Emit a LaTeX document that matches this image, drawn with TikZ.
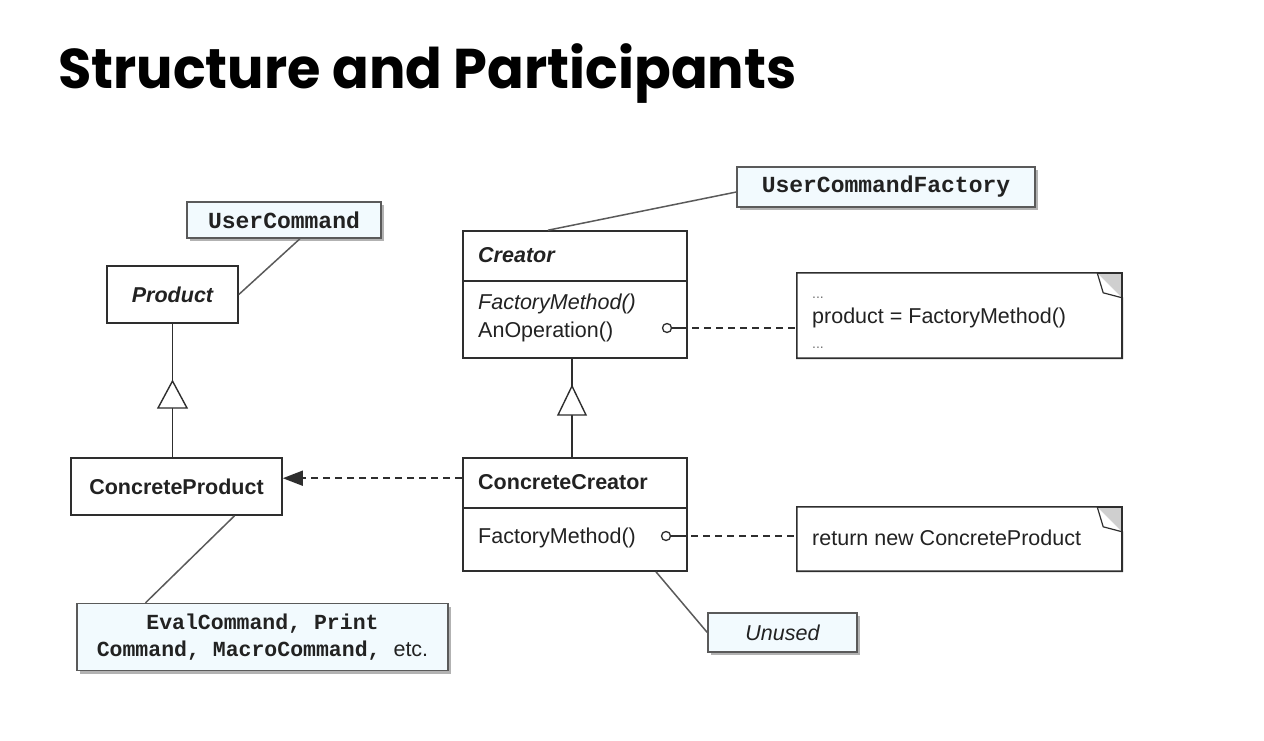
\documentclass[tikz,border=0pt]{standalone}
\usepackage{fontspec}
\setmainfont{Liberation Sans}
\setmonofont{Liberation Mono}
\newfontfamily\titlefont{Poppins}
\usetikzlibrary{arrows.meta,shadows,calc}

\definecolor{linec}{HTML}{2E2E2E}
\definecolor{notec}{HTML}{5A5A5A}
\definecolor{notefill}{HTML}{F2FAFE}
\definecolor{txt}{HTML}{222222}
\definecolor{earfill}{HTML}{CFCFCF}

\tikzset{
  umlbox/.style={draw=linec, line width=1.6pt, fill=white, inner sep=0pt,
    rectangle, text=txt, font=\fontsize{21.5}{26}\selectfont\bfseries},
  membertext/.style={anchor=west, inner sep=0pt, text=txt,
    font=\fontsize{21.5}{26}\selectfont},
  tagbox/.style={draw=notec, line width=1.4pt, fill=notefill, inner sep=0pt,
    rectangle, text=txt, align=center,
    drop shadow={shadow xshift=3pt, shadow yshift=-3pt, opacity=0.3, fill=black}},
  tagline/.style={draw=notec, line width=1.5pt},
  cmtbox/.style={draw=linec, line width=1.6pt, fill=white, line join=miter},
  genline/.style={draw=linec, line width=1.6pt},
  gentri/.style={draw=linec, line width=1.4pt, fill=white, line join=miter},
  depline/.style={draw=linec, line width=1.6pt, dash pattern=on 7pt off 5pt,
    -{Triangle[length=20pt,width=15pt]}},
  linkdash/.style={draw=linec, line width=1.6pt, dash pattern=on 7pt off 5pt},
  monotag/.style={font=\fontsize{23}{28}\ttfamily\bfseries},
  dotstext/.style={anchor=base west, inner sep=0pt, text=black!55,
    font=\fontsize{14}{16}\selectfont},
}

\begin{document}
\begin{tikzpicture}[x=1pt,y=-1pt]
\useasboundingbox (0,0) rectangle (1264,740);

% heading
\node[anchor=base west, inner sep=0pt, text=black]
  (title) at (58,88) {\scalebox{0.967}[1]{\titlefont\bfseries\fontsize{56}{60}\selectfont Structure and Participants}};

% ---- product side ----
\node[umlbox, minimum width=131pt, minimum height=57pt] (product) at (172.5,294.5)
  {\itshape Product};
\node[umlbox, minimum width=211pt, minimum height=57pt] (cprod) at (176.5,486.5)
  {ConcreteProduct};

\draw[genline] (product.south) -- (product.south |- cprod.north);
\draw[gentri] (172.5,381) -- (158,408) -- (187,408) -- cycle;

% ---- creator side ----
\node[umlbox, minimum width=224pt, minimum height=127pt] (creator) at (575,294.5) {};
\draw[genline] (creator.west |- 0,281) -- (creator.east |- 0,281);
\node[membertext, font=\fontsize{21.5}{26}\selectfont\bfseries\itshape] (crname) at (478,255) {Creator};
\node[membertext, font=\fontsize{21.5}{26}\selectfont\itshape] (crfm) at (478,304) {FactoryMethod()};
\node[membertext] (crop) at (478,332) {AnOperation()};

\node[umlbox, minimum width=224pt, minimum height=113pt] (ccreator) at (575,514.5) {};
\draw[genline] (ccreator.west |- 0,508) -- (ccreator.east |- 0,508);
\node[membertext, font=\fontsize{21.5}{26}\selectfont\bfseries] (ccname) at (478,482) {ConcreteCreator};
\node[membertext] (ccfm) at (478,538) {FactoryMethod()};

\draw[genline] ([xshift=-3pt]creator.south) -- ([xshift=-3pt]ccreator.north);
\draw[gentri] (572,386) -- (558,415) -- (586,415) -- cycle;

% dependency ConcreteCreator -> ConcreteProduct
\coordinate (depstart) at ($(ccreator.north west)+(0,21)$);
\draw[depline] (depstart) -- (depstart -| cprod.east);

% ---- comment notes with folded corner ----
\node[minimum width=325pt, minimum height=85pt, inner sep=0pt] (note1) at (959.5,315.5) {};
\node[minimum width=325pt, minimum height=64pt, inner sep=0pt] (note2) at (959.5,539) {};
\foreach \n in {note1,note2}{
  \draw[cmtbox] (\n.south west) -- (\n.north west) -- ([xshift=-25pt]\n.north east)
    -- ([yshift=-25pt]\n.north east) -- (\n.south east) -- cycle;
  \fill[earfill] ([xshift=-25pt]\n.north east) -- (\n.north east) -- ([yshift=-25pt]\n.north east) -- cycle;
  \draw[linec, line width=1.2pt, fill=white, line join=round]
    ([xshift=-25pt]\n.north east) -- ([xshift=-19pt,yshift=-20pt]\n.north east)
    -- ([yshift=-25pt]\n.north east);
  \draw[linec, line width=1.6pt] ([xshift=-25pt]\n.north east) -- (\n.north east) -- (\n.south east);
}
\node[dotstext] (n1a) at (812,298) {...};
\node[membertext] (n1b) at (812,318) {product = FactoryMethod()};
\node[dotstext] (n1c) at (812,348) {...};
\node[membertext] (n2a) at (812,538) {return new ConcreteProduct};

% links from operations to notes
\node[draw=linec, line width=1.3pt, circle, inner sep=0pt, minimum size=9pt, fill=white] (o1) at (667,328) {};
\node[draw=linec, line width=1.3pt, circle, inner sep=0pt, minimum size=9pt, fill=white] (o2) at (666,536) {};
\draw[genline] (o1.east) -- ++(8,0) coordinate (o1s);
\draw[linkdash] (o1s) -- (o1s -| note1.west);
\draw[genline] (o2.east) -- ++(8,0) coordinate (o2s);
\draw[linkdash] (o2s) -- (o2s -| note2.west);

% ---- role tags ----
\node[tagbox, monotag, minimum width=194pt, minimum height=36pt] (uc) at (284,220) {UserCommand};
\node[tagbox, monotag, minimum width=298pt, minimum height=40pt] (ucf) at (886,187) {UserCommandFactory};
\node[tagbox, minimum width=371pt, minimum height=67pt,
      font=\fontsize{21.5}{27}\selectfont\ttfamily\bfseries] (eval) at (262.5,637)
  {EvalCommand, Print\\
   Command, MacroCommand, {\rmfamily\mdseries etc.}};
\node[tagbox, minimum width=149pt, minimum height=39pt, font=\fontsize{21.5}{24}\selectfont\itshape] (unused) at (782.5,632.5) {Unused};

\draw[tagline] ([xshift=16pt]uc.south) -- (product.east);
\draw[tagline] ([xshift=-27pt]creator.north) -- ([yshift=-5pt]ucf.west);
\draw[tagline] ([xshift=58pt]cprod.south) -- ([xshift=-117pt]eval.north);
\draw[tagline] ([xshift=81pt]ccreator.south) -- (unused.west);
\end{tikzpicture}
\end{document}
